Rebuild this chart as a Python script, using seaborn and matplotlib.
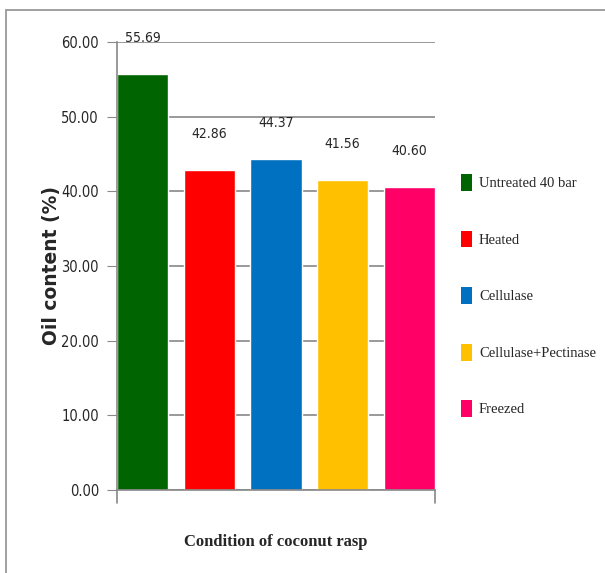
import matplotlib
matplotlib.use("Agg")
import matplotlib.pyplot as plt
import matplotlib.patches as mpatches
import seaborn as sns
import pandas as pd

conditions = ["Untreated 40 bar", "Heated", "Cellulase", "Cellulase+Pectinase", "Freezed"]
oil_content = [55.69, 42.86, 44.37, 41.56, 40.60]
colors = ["#006400", "#FF0000", "#0070C0", "#FFC000", "#FF0066"]
yticks = [0, 10, 20, 30, 40, 50, 60]

df = pd.DataFrame({"condition": conditions, "oil": oil_content})

sns.set_style("white")
fig = plt.figure(figsize=(6.05, 5.73), dpi=100)
ax = fig.add_axes([0.1934, 0.1449, 0.5256, 0.7818])

sns.barplot(data=df, x="condition", y="oil", hue="condition", palette=colors,
            dodge=False, width=0.77, saturation=1, legend=False, ax=ax)

ax.set_ylim(0, 60)
ax.set_xlim(-0.385, 4.385)
ax.set_yticks(yticks)
ax.set_yticklabels([f"{v:.2f}" for v in yticks], fontsize=10.5,
                   family="DejaVu Sans", fontstretch="condensed")
ax.yaxis.grid(True, color="#888888", linewidth=1.2)
ax.set_axisbelow(True)
ax.set_xticks([])
for side in ["top", "right"]:
    ax.spines[side].set_visible(False)
for side in ["left", "bottom"]:
    ax.spines[side].set_color("#888888")
    ax.spines[side].set_linewidth(1.2)
ax.tick_params(axis="y", left=True, length=7, color="#888888", pad=6)

# boundary ticks below the x axis at both ends
for xv in [-0.385, 4.385]:
    ax.plot([xv, xv], [0, -0.028], transform=ax.get_xaxis_transform(),
            color="#888888", lw=1.2, clip_on=False)

ax.set_ylabel("Oil content (%)", fontsize=13.5, fontweight="bold",
              family="DejaVu Sans", labelpad=0)
ax.set_xlabel("Condition of coconut rasp", fontsize=12, fontweight="bold",
              family="Liberation Serif", labelpad=32)

for i, v in enumerate(oil_content):
    ax.annotate(f"{v:.2f}", (i, v), xytext=(0, 21), textcoords="offset points",
                ha="center", va="bottom", fontsize=10, family="DejaVu Sans",
                fontstretch="condensed")

handles = [mpatches.Patch(facecolor=c, edgecolor="none") for c in colors]
fig.legend(handles, conditions, loc="upper left", bbox_to_anchor=(0.74, 0.719),
           frameon=False, labelspacing=2.72, handlelength=0.75, handleheight=1.4,
           handletextpad=0.5, prop={"family": "Liberation Serif", "size": 10.5})

# outer frame
fig.patches.append(mpatches.Rectangle((6 / 605, -0.05), 1.1, 1.05 - 10 / 573,
                                      transform=fig.transFigure, fill=False,
                                      edgecolor="#999999", linewidth=1.3))

fig.savefig("out.png", dpi=100)
